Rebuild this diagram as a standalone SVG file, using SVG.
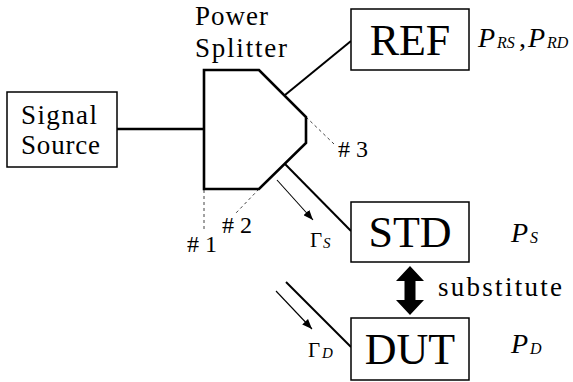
<svg xmlns="http://www.w3.org/2000/svg" width="573" height="382" viewBox="0 0 573 382">
<style>
text{font-family:'Liberation Serif',serif;fill:#000}
.box{fill:#fff;stroke:#000;stroke-width:1.5}
.big{font-size:44px;text-anchor:middle}
.lbl{font-size:27px}
.it{font-style:italic}
.thick{stroke:#000;stroke-width:2.6;fill:none}
.wire{stroke:#000;stroke-width:2;fill:none}
.thin{stroke:#000;stroke-width:1.1;fill:none}
.dash{stroke:#444;stroke-width:1;stroke-dasharray:3,3;fill:none}
</style>
<defs>
<marker id="ah" viewBox="0 0 10 8" refX="10" refY="4" markerWidth="10" markerHeight="8" markerUnits="userSpaceOnUse" orient="auto">
<path d="M0,0 L10,4 L0,8 Z" fill="#000"/>
</marker>
</defs>
<g id="connectors">
<line class="thick" x1="117" y1="129" x2="204" y2="129"/>
<line class="wire" x1="285" y1="95" x2="351" y2="41"/>
<line class="wire" x1="285" y1="164" x2="351" y2="231"/>
<line class="wire" x1="286" y1="282" x2="351" y2="347"/>
<line class="thin" x1="277" y1="180" x2="313" y2="220" marker-end="url(#ah)"/>
<line class="thin" x1="276" y1="291" x2="312" y2="329" marker-end="url(#ah)"/>
<line class="dash" x1="204" y1="190" x2="204" y2="232"/>
<line class="dash" x1="259" y1="189" x2="236" y2="213"/>
<line class="dash" x1="306" y1="117" x2="334" y2="144"/>
<polygon points="410,266 424,281 415.5,281 415.5,300 424,300 410,315 396,300 404.5,300 404.5,281 396,281" fill="#000"/>
</g>
<g id="signal-source">
<rect class="box" x="7" y="92" width="110" height="75"/>
<text class="lbl" x="21" y="124" textLength="76" lengthAdjust="spacing">Signal</text>
<text class="lbl" x="21" y="154" textLength="79" lengthAdjust="spacing">Source</text>
</g>
<g id="power-splitter">
<polygon class="thick" points="204,70 259,70 306,117 306,143 259,189 204,189"/>
<text class="lbl" x="195" y="25" textLength="73" lengthAdjust="spacing">Power</text>
<text class="lbl" x="195" y="57" textLength="92" lengthAdjust="spacing">Splitter</text>
<text x="187" y="252" font-size="24" textLength="30" lengthAdjust="spacing">#1</text>
<text x="222" y="233" font-size="24" textLength="30" lengthAdjust="spacing">#2</text>
<text x="338" y="157" font-size="24" textLength="30" lengthAdjust="spacing">#3</text>
</g>
<g id="ref">
<rect class="box" x="351" y="9" width="118" height="61"/>
<text class="big" x="410" y="55">REF</text>
<text x="478" y="47" class="it" font-size="28">P</text>
<text x="497" y="48" class="it" font-size="16">RS</text>
<text x="519" y="47" font-size="28">,</text>
<text x="528" y="47" class="it" font-size="28">P</text>
<text x="547" y="48" class="it" font-size="16">RD</text>
</g>
<g id="std">
<rect class="box" x="351" y="202" width="118" height="60"/>
<text class="big" x="410" y="247">STD</text>
<text x="511" y="242" class="it" font-size="28">P</text>
<text x="530" y="243" class="it" font-size="16">S</text>
<text x="310" y="247" font-size="21">Γ</text>
<text x="323" y="248" class="it" font-size="15">S</text>
</g>
<g id="dut">
<rect class="box" x="351" y="318" width="118" height="62"/>
<text class="big" x="410" y="364">DUT</text>
<text x="511" y="353" class="it" font-size="28">P</text>
<text x="530" y="354" class="it" font-size="16">D</text>
<text x="308" y="357" font-size="21">Γ</text>
<text x="322" y="358" class="it" font-size="15">D</text>
</g>
<g id="substitute">
<text class="lbl" x="438" y="296" textLength="124" lengthAdjust="spacing">substitute</text>
</g>
</svg>
